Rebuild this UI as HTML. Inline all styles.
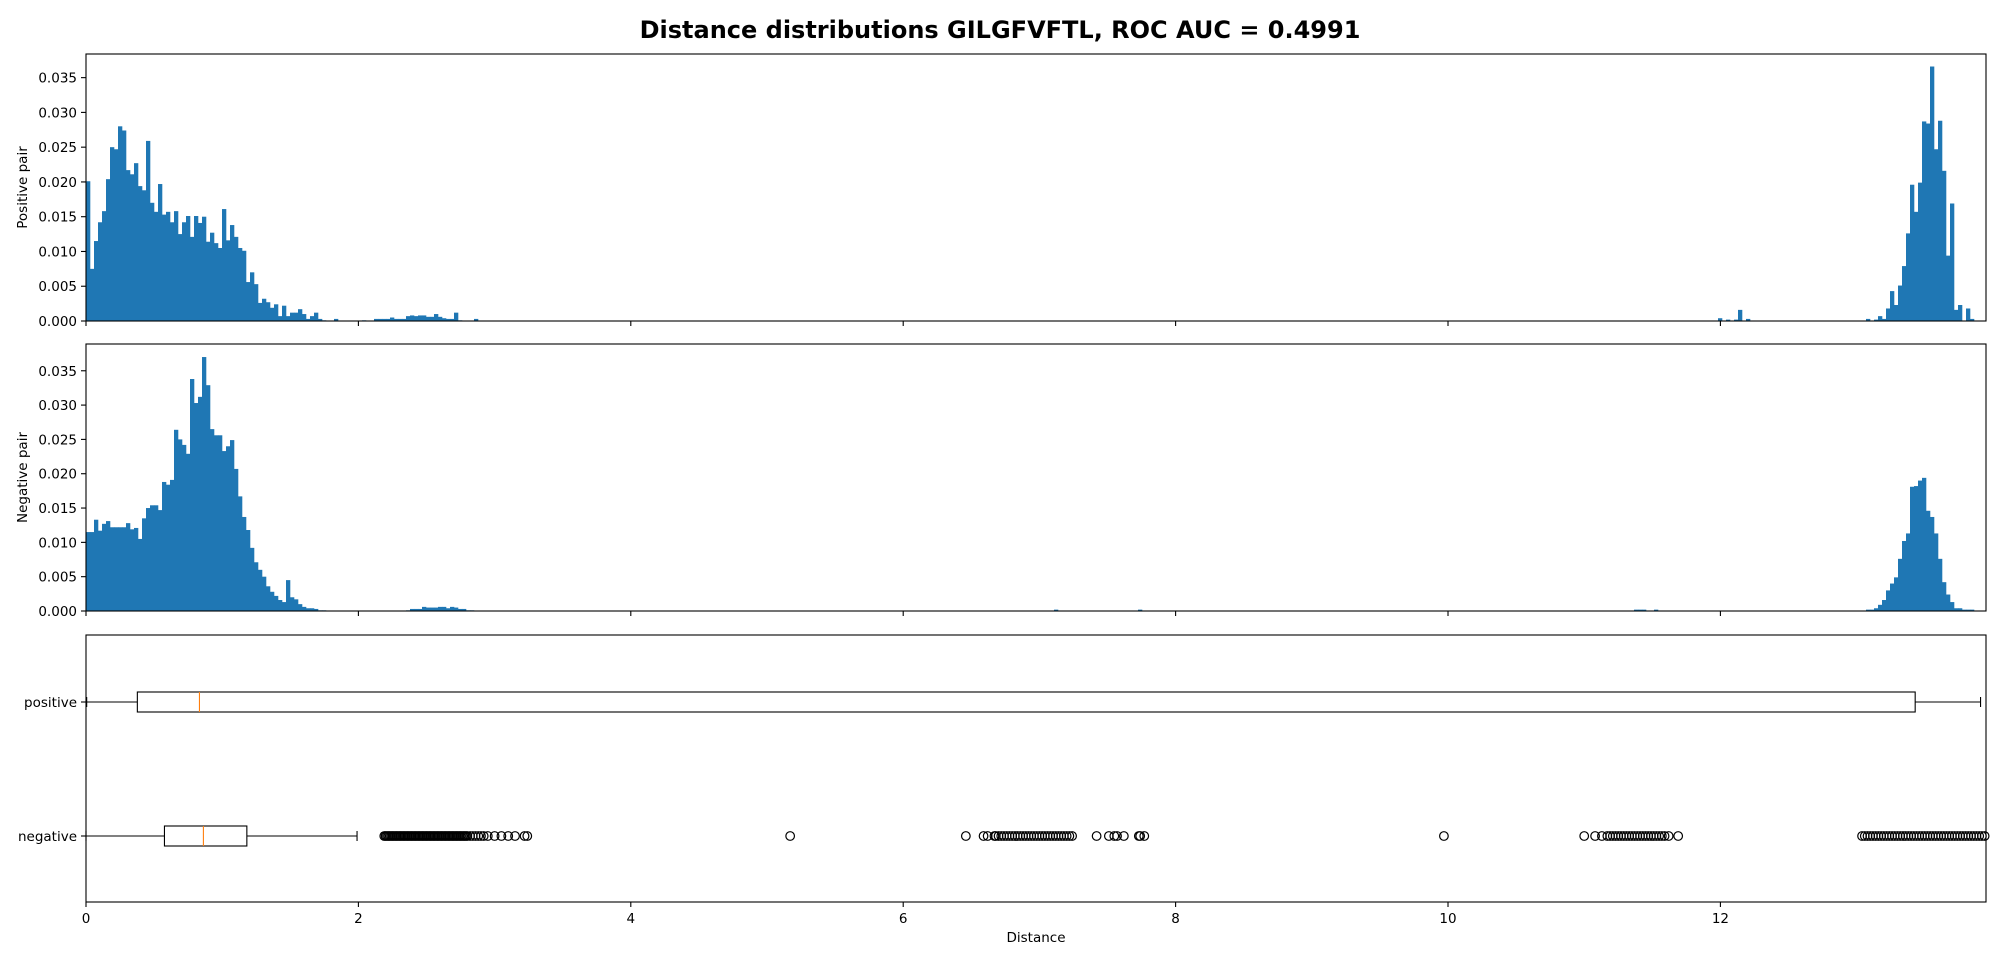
<!DOCTYPE html>
<html><head><meta charset="utf-8">
<style>
html,body{margin:0;padding:0;background:#fff;}
svg{display:block;font-family:"DejaVu Sans","Liberation Sans",sans-serif;}
</style></head>
<body>
<svg id="chart" width="2000" height="960" viewBox="0 0 2000 960" xmlns="http://www.w3.org/2000/svg">
<text x="1000" y="38" text-anchor="middle" font-size="24" font-weight="bold">Distance distributions GILGFVFTL, ROC AUC = 0.4991</text>
</svg>
<script>
// ---- data ----
const nBins = 475;
const xMax = 13.95;
const xTicks = [0, 2, 4, 6, 8, 10, 12];
const yTicks = [0, 0.005, 0.01, 0.015, 0.02, 0.025, 0.03, 0.035];
const yTickLabels = ["0.000","0.005","0.010","0.015","0.020","0.025","0.030","0.035"];
const posLeftVals = [0.0201,0.0075,0.0115,0.0142,0.0158,0.0204,0.0250,0.0247,0.0280,0.0274,0.0217,0.0211,0.0227,0.0194,0.0188,0.0259,0.0170,0.0157,0.0197,0.0153,0.0157,0.0142,0.0158,0.0125,0.0142,0.0151,0.0121,0.0151,0.0141,0.0150,0.0114,0.0127,0.0112,0.0105,0.0161,0.0116,0.0138,0.0121,0.0105,0.0101,0.0056,0.0070,0.0053,0.0026,0.0032,0.0027,0.0019,0.0024,0.0007,0.0022,0.0007,0.0012,0.0012,0.0017,0.0010,0.0003,0.0007,0.0012,0.0003,0.0001,0,0,0.0003,0,0,0,0,0,0,0.0001,0,0,0.0003,0.0003,0.0003,0.0003,0.0005,0.0003,0.0003,0.0003,0.0007,0.0008,0.0007,0.0008,0.0008,0.0006,0.0006,0.0010,0.0006,0.0004,0.0003,0.0003,0.0012,0.0001,0,0,0,0.0003];
const posRightVals = [0,0,0,0.0004,0,0.0002,0,0.0002,0.0016,0,0.0003,0,0,0,0,0,0,0,0,0,0,0,0,0,0,0,0,0,0,0,0,0,0,0,0,0,0,0,0,0,0.0003,0,0.0002,0.0007,0.0003,0.0018,0.0043,0.0023,0.0051,0.0079,0.0126,0.0196,0.0157,0.0199,0.0287,0.0284,0.0366,0.0247,0.0288,0.0216,0.0094,0.0169,0.0016,0.0023,0,0.0018,0.0003];
const posRightStart = 405;
const negLeftVals = [0.0115,0.0115,0.0133,0.0117,0.0127,0.0131,0.0122,0.0122,0.0122,0.0122,0.0128,0.0119,0.0121,0.0105,0.0135,0.0150,0.0154,0.0154,0.0147,0.0188,0.0184,0.0191,0.0264,0.0250,0.0242,0.0229,0.0338,0.0303,0.0312,0.0370,0.0329,0.0265,0.0256,0.0256,0.0233,0.0240,0.0249,0.0207,0.0167,0.0137,0.0118,0.0092,0.0071,0.0060,0.0050,0.0036,0.0028,0.0022,0.0016,0.0013,0.0045,0.0020,0.0017,0.0010,0.0006,0.0004,0.0004,0.0003,0.0001,0.0001,0,0,0,0,0,0,0,0,0,0,0,0,0,0,0,0,0,0,0,0,0.0001,0.0003,0.0003,0.0003,0.0006,0.0005,0.0005,0.0005,0.0006,0.0006,0.0004,0.0006,0.0005,0.0003,0.0003,0.0001,0.0001];
const negSparseBins = [242,263,387,388,389,392];
const negSparseVals = [0.0002,0.0002,0.0002,0.0002,0.0002,0.0002];
const negRightVals = [0.0002,0.0002,0.0004,0.0009,0.0016,0.0030,0.0040,0.0049,0.0076,0.0102,0.0113,0.0181,0.0182,0.0190,0.0194,0.0146,0.0137,0.0113,0.0076,0.0042,0.0024,0.0013,0.0004,0.0004,0.0002,0.0002,0.0002];
const negRightStart = 445;
const boxCategories = ["positive","negative"];
const boxWhiskerLo = [0.005, 0.0];
const boxQ1 = [0.377, 0.576];
const boxMedian = [0.833, 0.862];
const boxQ3 = [13.43, 1.181];
const boxWhiskerHi = [13.91, 1.99];
const negFliers = [
 2.19,2.20,2.21,2.22,2.23,2.24,2.25,2.26,2.27,2.28,2.29,2.30,2.31,2.32,2.33,2.34,2.35,2.36,2.37,2.38,2.39,2.40,2.41,2.42,2.43,2.44,2.45,2.46,2.47,2.48,2.49,2.50,2.51,2.52,2.53,2.54,2.55,2.56,2.57,2.58,2.59,2.60,2.61,2.62,2.63,2.64,2.65,2.66,2.67,2.68,2.69,2.70,2.71,2.72,2.73,2.74,2.75,2.76,2.77,2.78,2.79,2.80,2.82,2.84,2.86,2.88,2.90,2.92,2.95,3.00,3.05,3.10,3.15,3.22,3.24,
 5.17,6.46,6.59,6.62,6.67,6.68,6.70,6.72,6.74,6.76,6.78,6.80,6.82,6.84,6.86,6.88,6.90,6.92,6.94,6.96,6.98,7.00,7.02,7.04,7.06,7.08,7.10,7.12,7.14,7.16,7.18,7.20,7.22,7.24,7.42,7.51,7.55,7.57,7.62,7.73,7.74,7.77,9.97,
 11.00,11.08,11.13,11.17,11.19,11.21,11.23,11.25,11.27,11.29,11.31,11.33,11.35,11.37,11.39,11.41,11.43,11.45,11.47,11.49,11.51,11.53,11.55,11.57,11.59,11.62,11.69,
 13.04,13.06,13.08,13.10,13.12,13.14,13.16,13.18,13.20,13.22,13.24,13.26,13.28,13.30,13.32,13.34,13.36,13.38,13.40,13.42,13.44,13.46,13.48,13.50,13.52,13.54,13.56,13.58,13.60,13.62,13.64,13.66,13.68,13.70,13.72,13.74,13.76,13.78,13.80,13.82,13.84,13.86,13.88,13.90,13.92,13.94];

// ---- layout ----
const NS = "http://www.w3.org/2000/svg";
const svg = document.getElementById("chart");
const L = 86, R = 1986;
const panels = [
  {top: 54, bottom: 321, ymax: 0.0384, label: "Positive pair", name: "positive"},
  {top: 344, bottom: 611, ymax: 0.0389, label: "Negative pair", name: "negative"}
];
const boxPanel = {top: 635, bottom: 902};
function xs(v){ return L + v / xMax * (R - L); }
function mk(tag, attrs, parent){
  const e = document.createElementNS(NS, tag);
  for (const k in attrs) e.setAttribute(k, attrs[k]);
  (parent || svg).appendChild(e);
  return e;
}
const binW = xMax / nBins;

function fullSeries(leftVals, rightVals, rightStart, sparseBins, sparseVals){
  const arr = new Array(nBins).fill(0);
  leftVals.forEach((v,i)=>{ arr[i] = v; });
  rightVals.forEach((v,i)=>{ arr[rightStart + i] = v; });
  if (sparseBins) sparseBins.forEach((b,i)=>{ arr[b] = sparseVals[i]; });
  return arr;
}
const series = [
  fullSeries(posLeftVals, posRightVals, posRightStart),
  fullSeries(negLeftVals, negRightVals, negRightStart, negSparseBins, negSparseVals)
];

panels.forEach((p, pi) => {
  const g = mk("g", {});
  
  
  const ys = v => p.bottom - v / p.ymax * (p.bottom - p.top);
  series[pi].forEach((v, i) => {
    if (v <= 0) return;
    const x0 = xs(i * binW), x1 = xs((i + 1) * binW);
    const r = mk("rect", {x: x0, y: ys(v), width: x1 - x0 + 0.3, height: p.bottom - ys(v), fill: "#1f77b4"}, g);
    
    
  });
  const frame = mk("rect", {x: L, y: p.top, width: R - L, height: p.bottom - p.top, fill: "none", stroke: "#000", "stroke-width": 1.1});
  
  
  yTicks.forEach((t, i) => {
    const y = ys(t);
    mk("line", {x1: L - 5, x2: L, y1: y, y2: y, stroke: "#000", "stroke-width": 1.1});
    const tx = mk("text", {x: L - 9, y: y + 5, "text-anchor": "end", "font-size": 13.5});
    tx.textContent = yTickLabels[i];
    
    
  });
  xTicks.forEach(t => {
    mk("line", {x1: xs(t), x2: xs(t), y1: p.bottom, y2: p.bottom + 5, stroke: "#000", "stroke-width": 1.1});
  });
  const lbl = mk("text", {x: 0, y: 0, "text-anchor": "middle", "font-size": 13.5, transform: `translate(27 ${(p.top + p.bottom) / 2}) rotate(-90)`});
  lbl.textContent = p.label;
  
  
});

// box plot panel
const bp = boxPanel;
const catY = [702, 836];
const bframe = mk("rect", {x: L, y: bp.top, width: R - L, height: bp.bottom - bp.top, fill: "none", stroke: "#000", "stroke-width": 1.1});


boxCategories.forEach((c, i) => {
  const y = catY[i];
  const g = mk("g", {});
  
  
  mk("line", {x1: xs(boxWhiskerLo[i]), x2: xs(boxQ1[i]), y1: y, y2: y, stroke: "#000", "stroke-width": 1.1}, g);
  mk("line", {x1: xs(boxQ3[i]), x2: xs(boxWhiskerHi[i]), y1: y, y2: y, stroke: "#000", "stroke-width": 1.1}, g);
  mk("line", {x1: xs(boxWhiskerLo[i]), x2: xs(boxWhiskerLo[i]), y1: y - 5, y2: y + 5, stroke: "#000", "stroke-width": 1.1}, g);
  mk("line", {x1: xs(boxWhiskerHi[i]), x2: xs(boxWhiskerHi[i]), y1: y - 5, y2: y + 5, stroke: "#000", "stroke-width": 1.1}, g);
  mk("rect", {x: xs(boxQ1[i]), y: y - 10, width: xs(boxQ3[i]) - xs(boxQ1[i]), height: 20, fill: "none", stroke: "#000", "stroke-width": 1.1}, g);
  mk("line", {x1: xs(boxMedian[i]), x2: xs(boxMedian[i]), y1: y - 10, y2: y + 10, stroke: "#ff7f0e", "stroke-width": 1.1}, g);
  mk("line", {x1: L - 5, x2: L, y1: y, y2: y, stroke: "#000", "stroke-width": 1.1});
  const t = mk("text", {x: L - 9, y: y + 5, "text-anchor": "end", "font-size": 13.5});
  t.textContent = c;
  
  
});
negFliers.forEach(v => {
  const c = mk("circle", {cx: xs(v), cy: catY[1], r: 4.3, fill: "none", stroke: "#000", "stroke-width": 1.2});
  
  
});
xTicks.forEach(t => {
  mk("line", {x1: xs(t), x2: xs(t), y1: bp.bottom, y2: bp.bottom + 5, stroke: "#000", "stroke-width": 1.1});
  const tx = mk("text", {x: xs(t), y: bp.bottom + 21, "text-anchor": "middle", "font-size": 13.5});
  tx.textContent = String(t);
  
  
});
const xl = mk("text", {x: (L + R) / 2, y: 942, "text-anchor": "middle", "font-size": 13.5});
xl.textContent = "Distance";


</script>
</body></html>
